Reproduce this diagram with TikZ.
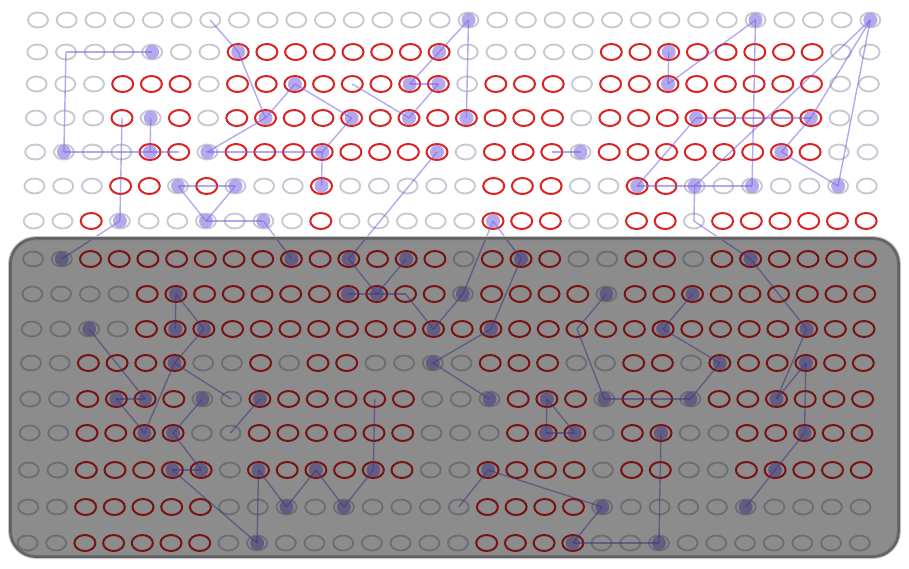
\documentclass[tikz,border=0pt]{standalone}
\usetikzlibrary{shapes.geometric}
\definecolor{cellred}{HTML}{DA2424}
\definecolor{cellgrey}{HTML}{C6CAD2}
\definecolor{trail}{HTML}{7862E0}
\tikzset{
  cellg/.style={ellipse, draw=cellgrey, line width=1.9pt, inner sep=0pt,
                minimum width=20pt, minimum height=15pt},
  cellr/.style={cellg, draw=cellred, line width=2pt,
                minimum width=21pt, minimum height=16pt},
  visit/.style={circle, fill=trail, fill opacity=0.55, inner sep=0pt, minimum size=14pt},
  hop/.style={draw=trail, draw opacity=0.55, line width=1.4pt},
  shade/.style={draw=black!62, line width=1.8pt, fill=black, fill opacity=0.45,
                rounded corners=26pt},
}
% one row of the grid: #1 row index, #2 y, #3 g/r for each of the 30 columns
\newcommand{\cellrow}[3]{%
  \foreach \k [count=\n from 0] in {#3} {
    \pgfmathsetmacro{\cx}{38+28.7*\n-0.7*#1}
    \node[cell\k] (c\n-#1) at (\cx,#2) {};
  }
}

\begin{document}
\begin{tikzpicture}[x=1pt,y=-1pt]
  \useasboundingbox (0,0) rectangle (909,568);

  \cellrow{0}{20}{g,g,g,g,g,g,g,g,g,g, g,g,g,g,g,g,g,g,g,g, g,g,g,g,g,g,g,g,g,g}
  \cellrow{1}{52}{g,g,g,g,g,g,g,r,r,r, r,r,r,r,r,g,g,g,g,g, r,r,r,r,r,r,r,r,g,g}
  \cellrow{2}{84}{g,g,g,r,r,r,g,r,r,r, r,r,r,r,r,g,r,r,r,g, r,r,r,r,r,r,r,r,g,g}
  \cellrow{3}{118}{g,g,g,r,g,r,g,r,r,r, r,r,r,r,r,r,r,r,r,g, r,r,r,r,r,r,r,r,g,g}
  \cellrow{4}{152}{g,g,g,g,r,r,g,r,r,r, r,r,r,r,r,g,r,r,r,g, r,r,r,r,r,r,r,r,g,g}
  \cellrow{5}{186}{g,g,g,r,r,g,r,g,g,g, r,g,g,g,g,g,r,r,r,g, g,r,r,g,g,g,g,g,g,g}
  \cellrow{6}{221}{g,g,r,g,g,g,g,g,g,g, r,g,g,g,g,g,r,r,r,g, g,r,r,g,r,r,r,r,r,r}
  \cellrow{7}{259}{g,g,r,r,r,r,r,r,r,r, r,r,r,r,r,g,r,r,r,g, g,r,r,g,r,r,r,r,r,r}
  \cellrow{8}{294}{g,g,g,g,r,r,r,r,r,r, r,r,r,r,r,g,r,r,r,r, g,r,r,r,r,r,r,r,r,r}
  \cellrow{9}{329}{g,g,g,g,r,r,r,r,r,r, r,r,r,r,r,r,r,r,r,r, r,r,r,r,r,r,r,r,r,r}
  \cellrow{10}{363}{g,g,r,r,r,r,g,g,r,g, r,r,g,g,g,g,r,r,r,g, g,r,r,g,r,r,r,r,r,r}
  \cellrow{11}{399}{g,g,r,r,r,r,g,g,r,r, r,r,r,r,g,g,g,r,r,r, g,r,r,g,r,r,r,r,r,r}
  \cellrow{12}{433}{g,g,r,r,r,r,g,g,r,r, r,r,r,r,g,g,g,r,r,r, g,r,r,g,g,r,r,r,r,r}
  \cellrow{13}{470}{g,g,r,r,r,r,r,g,r,r, r,r,r,r,g,g,r,r,r,r, g,r,r,g,g,r,r,r,r,r}
  \cellrow{14}{507}{g,g,r,r,r,r,r,g,g,g, g,g,g,g,g,g,r,r,r,r, g,g,g,g,g,g,g,g,g,g}
  \cellrow{15}{543}{g,g,r,r,r,r,r,g,g,g, g,g,g,g,g,g,r,r,r,r, g,g,g,g,g,g,g,g,g,g}

  % walks, cell to cell
  \foreach \a/\b in {6-0/7-1, 7-1/8-3, 8-3/9-2, 8-3/6-4, 6-4/10-4, 10-4/11-3,
      10-4/10-5, 9-2/11-3, 11-2/13-3, 13-3/14-2, 14-2/13-2, 13-2/14-1, 14-1/15-0,
      15-0/15-3, 18-4/19-4, 14-4/11-7, 16-6/15-8, 15-8/14-9, 16-6/17-7, 17-7/16-9,
      16-9/14-10, 14-10/16-11,
      4-1/1-1, 1-1/1-4, 1-4/4-4, 4-4/4-3, 4-4/5-4, 3-3/3-6, 3-6/1-7, 5-5/7-5,
      5-5/6-6, 7-5/6-6, 6-6/8-6, 8-6/9-7,
      22-1/22-2, 22-2/25-0, 25-0/25-5, 29-0/23-5, 29-0/27-3, 29-0/28-5, 23-3/27-3,
      23-3/21-5, 21-5/25-5, 27-3/26-4, 26-4/28-5, 23-5/23-6, 23-6/25-7,
      25-7/27-9, 27-9/26-11, 27-10/26-11, 27-10/27-12, 27-12/26-13, 26-13/25-14,
      23-8/22-9, 22-9/24-10, 24-10/23-11, 23-11/20-11, 20-8/19-9, 19-9/20-11,
      22-12/22-15, 22-15/19-15, 19-15/20-14, 20-14/16-13, 16-13/15-14,
      18-11/18-12, 18-12/19-12, 19-12/18-11,
      12-11/12-13, 12-13/11-14, 11-14/10-13, 10-13/9-14, 9-14/8-13, 8-13/8-15,
      8-15/5-13, 5-13/6-13, 6-13/5-12, 5-12/6-11,
      4-12/3-11, 3-11/4-11, 2-9/4-11, 5-10/4-12, 5-10/6-9, 5-8/5-9, 5-8/6-9,
      5-10/7-11, 7-12/8-11,
      11-7/12-8, 11-8/13-8, 13-7/12-8, 13-8/14-9}
    \draw[hop] (c\a.center) -- (c\b.center);

  % visited cells
  \foreach \c/\r in {15/0, 25/0, 29/0,
      4/1, 7/1, 14/1, 22/1,
      9/2, 13/2, 14/2, 22/2,
      4/3, 8/3, 11/3, 13/3, 15/3, 23/3, 27/3,
      1/4, 4/4, 6/4, 10/4, 14/4, 19/4, 26/4,
      5/5, 7/5, 10/5, 21/5, 23/5, 25/5, 28/5,
      3/6, 6/6, 8/6, 16/6,
      1/7, 9/7, 11/7, 13/7, 17/7, 25/7,
      5/8, 11/8, 12/8, 15/8, 20/8, 23/8,
      2/9, 5/9, 6/9, 14/9, 16/9, 22/9, 27/9,
      5/10, 14/10, 24/10, 27/10,
      3/11, 4/11, 6/11, 8/11, 16/11, 18/11, 20/11, 23/11, 26/11,
      4/12, 5/12, 18/12, 19/12, 22/12, 27/12,
      5/13, 6/13, 8/13, 10/13, 12/13, 16/13, 26/13,
      9/14, 11/14, 20/14, 25/14,
      8/15, 19/15, 22/15}
    \node[visit] (d\c-\r) at (c\c-\r) {};

  % darkened lower block
  \draw[black!22, line width=4pt, rounded corners=26pt] (10,238) rectangle (899,557);
  \draw[shade] (10,238) rectangle (899,557);
\end{tikzpicture}
\end{document}
